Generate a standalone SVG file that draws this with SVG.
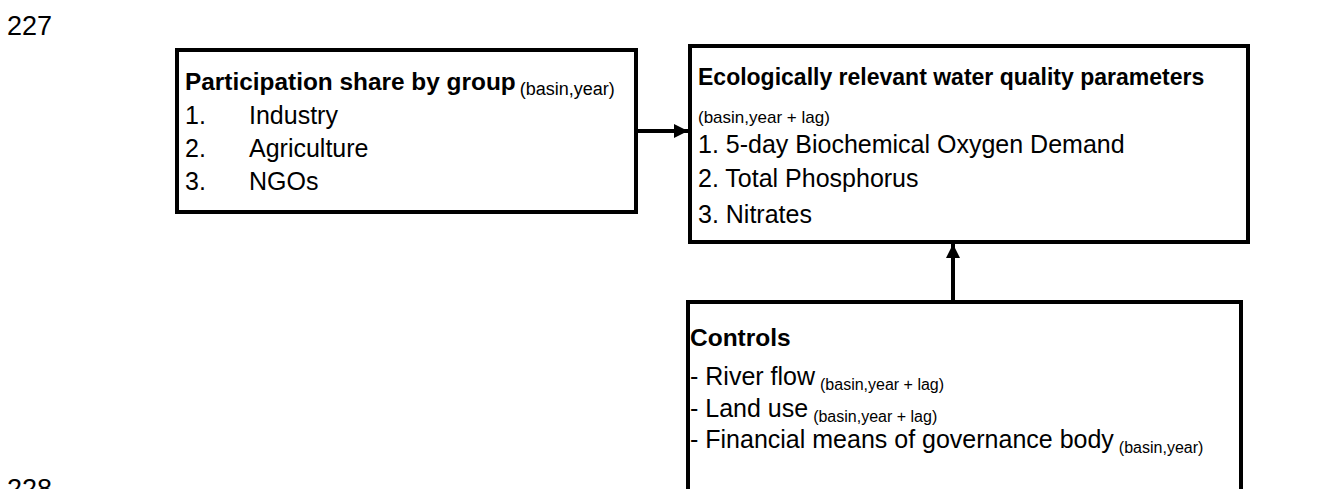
<svg xmlns="http://www.w3.org/2000/svg" width="1322" height="489" viewBox="0 0 1322 489">
<style>
text { font-family: "Liberation Sans", Arial, sans-serif; fill: #000; }
.t { font-size: 24px; font-weight: bold; }
.i { font-size: 25px; }
.s { font-size: 17px; font-weight: normal; }
.pg { font-size: 27px; }
.box { fill: #fff; stroke: #000; stroke-width: 4; }
.conn { stroke: #000; stroke-width: 4; fill: none; }
</style>
<defs>
<marker id="ah" viewBox="0 0 10 10" refX="10" refY="5" markerWidth="3.5" markerHeight="3.5" orient="auto" markerUnits="strokeWidth">
<path d="M0,0 L10,5 L0,10 z" fill="#000"/>
</marker>
</defs>
<rect width="1322" height="489" fill="#fff"/>
<text class="pg" x="7" y="35">227</text>
<text class="pg" x="7" y="498">228</text>

<g id="participation">
<rect class="box" x="177" y="50" width="459" height="162"/>
<text x="185" y="90"><tspan class="t" style="font-size:24.4px">Participation share by group</tspan><tspan class="s" dx="4" dy="5" style="font-size:18px">(basin,year)</tspan></text>
<text class="i" x="185" y="124">1.</text><text class="i" x="249" y="124">Industry</text>
<text class="i" x="185" y="157">2.</text><text class="i" x="249" y="157">Agriculture</text>
<text class="i" x="185" y="190">3.</text><text class="i" x="249" y="190">NGOs</text>
</g>

<g id="water-quality">
<rect class="box" x="690" y="46" width="558" height="196"/>
<text class="t" x="698" y="85" style="font-size:23px">Ecologically relevant water quality parameters</text>
<text class="s" x="698" y="123">(basin,year + lag)</text>
<text class="i" x="698" y="153">1. 5-day Biochemical Oxygen Demand</text>
<text class="i" x="698" y="187">2. Total Phosphorus</text>
<text class="i" x="698" y="223">3. Nitrates</text>
</g>

<g id="controls">
<rect class="box" x="688" y="302" width="553" height="250"/>
<text class="t" x="690" y="346" style="font-size:24.5px">Controls</text>
<text x="690" y="385"><tspan class="i">- River flow</tspan><tspan class="s" dx="5" dy="5" style="font-size:16px">(basin,year + lag)</tspan></text>
<text x="690" y="417"><tspan class="i">- Land use</tspan><tspan class="s" dx="5" dy="5" style="font-size:16px">(basin,year + lag)</tspan></text>
<text x="690" y="448"><tspan class="i">- Financial means of governance body</tspan><tspan class="s" dx="5" dy="5" style="font-size:16px">(basin,year)</tspan></text>
</g>

<g id="connectors">
<line class="conn" x1="638" y1="131" x2="688" y2="131" marker-end="url(#ah)"/>
<line class="conn" x1="953" y1="300" x2="953" y2="244" marker-end="url(#ah)"/>
</g>
</svg>
